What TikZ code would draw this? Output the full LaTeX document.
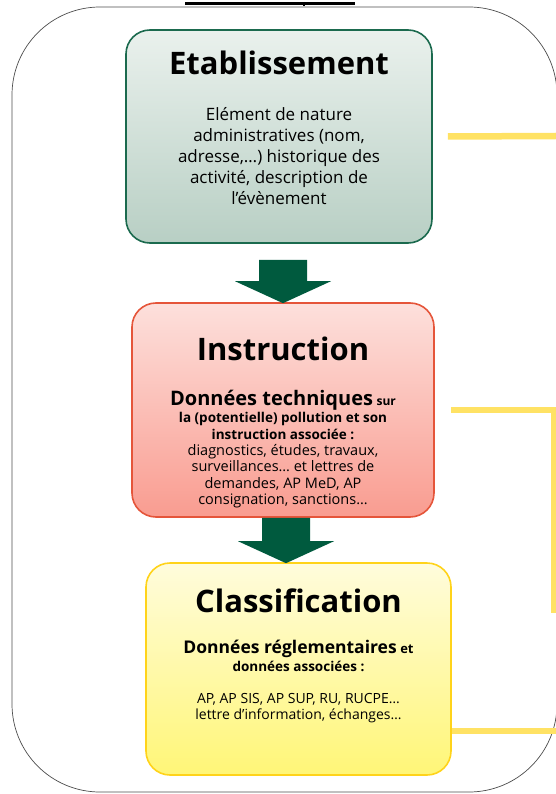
\documentclass[tikz,border=0pt]{standalone}
\usepackage{fontspec}
\setmainfont{Open Sans}[Ligatures={NoCommon,NoRequired}]
\usetikzlibrary{positioning,calc}
\definecolor{vertfonce}{HTML}{005A3E}
\definecolor{etabBord}{HTML}{1B6A4E}
\definecolor{etabHaut}{HTML}{EAF1ED}
\definecolor{etabBas}{HTML}{B8CFC4}
\definecolor{instrBord}{HTML}{E5553A}
\definecolor{instrHaut}{HTML}{FDE0DC}
\definecolor{instrBas}{HTML}{F99C90}
\definecolor{classBord}{HTML}{FFD31A}
\definecolor{classHaut}{HTML}{FFFCDC}
\definecolor{classBas}{HTML}{FFF677}
\definecolor{jauneLien}{HTML}{FFE264}
\newcommand{\grosseFleche}[2]{%
  \fill[vertfonce] ($(#1)+(-24,0)$) -- ($(#1)+(24,0)$) -- ($(#2)+(24,-22)$)
    -- ($(#2)+(48,-22)$) -- (#2) -- ($(#2)+(-48,-22)$) -- ($(#2)+(-24,-22)$) -- cycle;}
\tikzset{
  bloc/.style={draw, line width=1.6pt, rounded corners=24pt, inner sep=0pt},
  titre/.style={font=\fontsize{31}{36}\selectfont\bfseries},
  corps/.style={align=center, font=\fontsize{17}{21}\selectfont},
  lien/.style={draw=jauneLien, line width=6.5pt},
}
\begin{document}
\begin{tikzpicture}[x=1pt,y=-1pt]
\useasboundingbox (0,0) rectangle (556,794);
\draw[black!70, line width=0.7pt, rounded corners=88pt] (12,7) rectangle (557,792);
\draw[line width=3pt] (185,3.5) -- (355,3.5);
\draw[line width=2pt] (304,2) -- (304,6.5);

\node[bloc, draw=etabBord, top color=etabHaut, bottom color=etabBas,
  minimum width=306pt, minimum height=213pt] (etab) at (279,136.5) {};
\node[bloc, draw=instrBord, top color=instrHaut, bottom color=instrBas,
  minimum width=302pt, minimum height=214pt] (instr) at (283,410) {};
\node[bloc, draw=classBord, top color=classHaut, bottom color=classBas,
  minimum width=305pt, minimum height=212pt] (classif) at (298.5,669) {};

\node[titre] (etabTitre) at ($(etab.north)+(0,34)$) {Etablissement};
\node[corps] (etabTexte) at ($(etab.north)+(0,127)$)
  {Elément de nature\\administratives (nom,\\adresse,…) historique des\\activité, description de\\l’évènement};

\node[titre] (instrTitre) at ($(instr.north)+(0,47)$) {Instruction};
\node[align=center, font=\fontsize{13.5}{17}\selectfont\bfseries] (instrGras) at ($(instr.north)+(0,113)$)
  {{\fontsize{20}{17}\selectfont Données techniques} {\fontsize{12}{17}\selectfont sur}\\la (potentielle) pollution et son\\instruction associée :};
\node[align=center, font=\fontsize{14.5}{16.5}\selectfont] (instrTexte) at ($(instr.north)+(0,174)$)
  {diagnostics, études, travaux,\\surveillances… et lettres de\\demandes, AP MeD, AP\\consignation, sanctions…};

\node[titre] (classTitre) at ($(classif.north)+(0,39)$) {Classification};
\node[align=center, font=\fontsize{13.5}{18}\selectfont\bfseries] (classGras) at ($(classif.north)+(0,94)$)
  {{\fontsize{17.5}{18}\selectfont Données réglementaires} {\fontsize{13}{18}\selectfont et}\\données associées :};
\node[align=center, font=\fontsize{14}{16}\selectfont] (classTexte) at ($(classif.north)+(0,146)$)
  {AP, AP SIS, AP SUP, RU, RUCPE…\\lettre d’information, échanges…};

\coordinate (f1h) at ($(instr.north |- etab.south)+(0,16)$);
\coordinate (f1b) at ($(instr.north)+(0,1)$);
\grosseFleche{f1h}{f1b}
\coordinate (f2h) at ($(instr.south)+(3,0)$);
\coordinate (f2b) at ($(f2h |- classif.north)+(0,1)$);
\grosseFleche{f2h}{f2b}

\coordinate (sortie1) at (556,136);
\coordinate (coude2) at (554,410);
\coordinate (sortie2) at (554,613);
\coordinate (sortie3) at (556,731);
\draw[lien] ([xshift=15pt]etab.east) -- (sortie1);
\draw[lien] ([xshift=16pt]instr.east) -- (coude2) -- (sortie2);
\draw[lien] (classif.east |- sortie3) -- (sortie3);
\end{tikzpicture}
\end{document}
